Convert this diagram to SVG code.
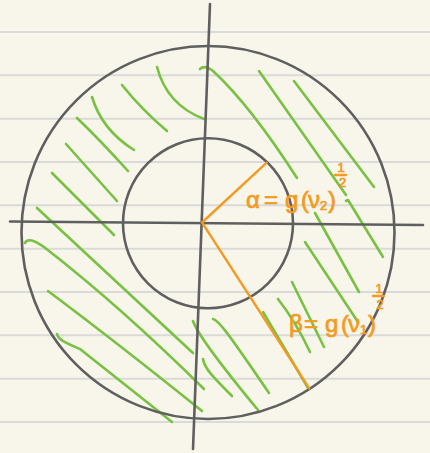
<svg xmlns="http://www.w3.org/2000/svg" width="430" height="453" viewBox="0 0 430 453">
<style>
.rule{stroke:#dadada;stroke-width:2;fill:none}
.ink{stroke:#5f5f5f;stroke-width:2.6;fill:none;stroke-linecap:round}
.hatch{stroke:#78c143;stroke-width:2.6;fill:none;stroke-linecap:round;stroke-linejoin:round}
.rad{stroke:#f39a22;stroke-width:2.4;fill:none;stroke-linecap:round}
.lbl{fill:#f39a22;stroke:#f39a22;stroke-width:0.7;font-family:"Liberation Sans","DejaVu Sans",sans-serif}
.big{font-size:24px}
.sub{font-size:13px}
</style>
<rect width="430" height="453" fill="#f8f6ea"/>
<g id="paper">
<path class="rule" d="M0,32H430M0,75.3H430M0,118.7H430M0,162H430M0,205.3H430M0,248.7H430M0,292H430M0,335.3H430M0,378.7H430M0,422H430"/>
</g>
<g id="hatching">
<path class="hatch" d="M157,67 Q167,105 204,119"/>
<path class="hatch" d="M122,85 Q142,110 167,131"/>
<path class="hatch" d="M92,97 Q102,130 134,150"/>
<path class="hatch" d="M77,118 Q100,140 128,171"/>
<path class="hatch" d="M66,144 L117,201"/>
<path class="hatch" d="M52,173 L114,235"/>
<path class="hatch" d="M37,208 L193,353"/>
<path class="hatch" d="M25,243 C27,238 34,240 44,247 Q120,306 204,389"/>
<path class="hatch" d="M48,291 Q120,345 202,411"/>
<path class="hatch" d="M57,334 C58,340 68,344 80,349 L172,422"/>
<path class="hatch" d="M193,321 C196,330 215,358 258,410"/>
<path class="hatch" d="M203,359 C204,368 214,378 232,396"/>
<path class="hatch" d="M213,319 C218,320 224,327 269,393"/>
<path class="hatch" d="M263,312 L308,388"/>
<path class="hatch" d="M278,299 Q296,322 310,352"/>
<path class="hatch" d="M292,282 L324,347"/>
<path class="hatch" d="M305,242 L358,322"/>
<path class="hatch" d="M315,213 L359,292"/>
<path class="hatch" d="M346,201 L348,200 L383,257"/>
<path class="hatch" d="M200,69 C203,66 208,67 213,71 Q250,105 297,178"/>
<path class="hatch" d="M259,71 L346,195"/>
<path class="hatch" d="M294,81 L374,187"/>
</g>
<g id="circles">
<circle id="outer-circle" class="ink" cx="208" cy="232.5" r="186.5"/>
<circle id="inner-circle" class="ink" cx="208" cy="223.3" r="85"/>
</g>
<g id="axes">
<path class="ink" d="M10,221.5 L423,225"/>
<path class="ink" d="M210,4 L193,449"/>
</g>
<g id="radii">
<path class="rad" d="M266.7,162.7 L202,222.5 L309.3,388.3"/>
</g>
<g id="label-alpha">
<text class="lbl big" y="208"><tspan x="246">α</tspan><tspan x="264">=</tspan><tspan x="285">g</tspan><tspan x="301">(</tspan><tspan x="308">ν</tspan><tspan class="sub" x="320" y="210">2</tspan><tspan x="328" y="208">)</tspan></text>
<text class="lbl sub" x="341" y="172" text-anchor="middle">1</text>
<path class="rad" d="M335,175 L346,175" stroke-width="2"/>
<text class="lbl sub" x="342.5" y="187" text-anchor="middle">2</text>
</g>
<g id="label-beta">
<text class="lbl big" y="332"><tspan x="289">β</tspan><tspan x="304">=</tspan><tspan x="325">g</tspan><tspan x="341">(</tspan><tspan x="348">ν</tspan><tspan class="sub" x="360" y="334">1</tspan><tspan x="368" y="332">)</tspan></text>
<text class="lbl sub" x="379" y="293" text-anchor="middle">1</text>
<path class="rad" d="M373,296 L384,296" stroke-width="2"/>
<text class="lbl sub" x="380" y="309" text-anchor="middle">2</text>
</g>
</svg>
